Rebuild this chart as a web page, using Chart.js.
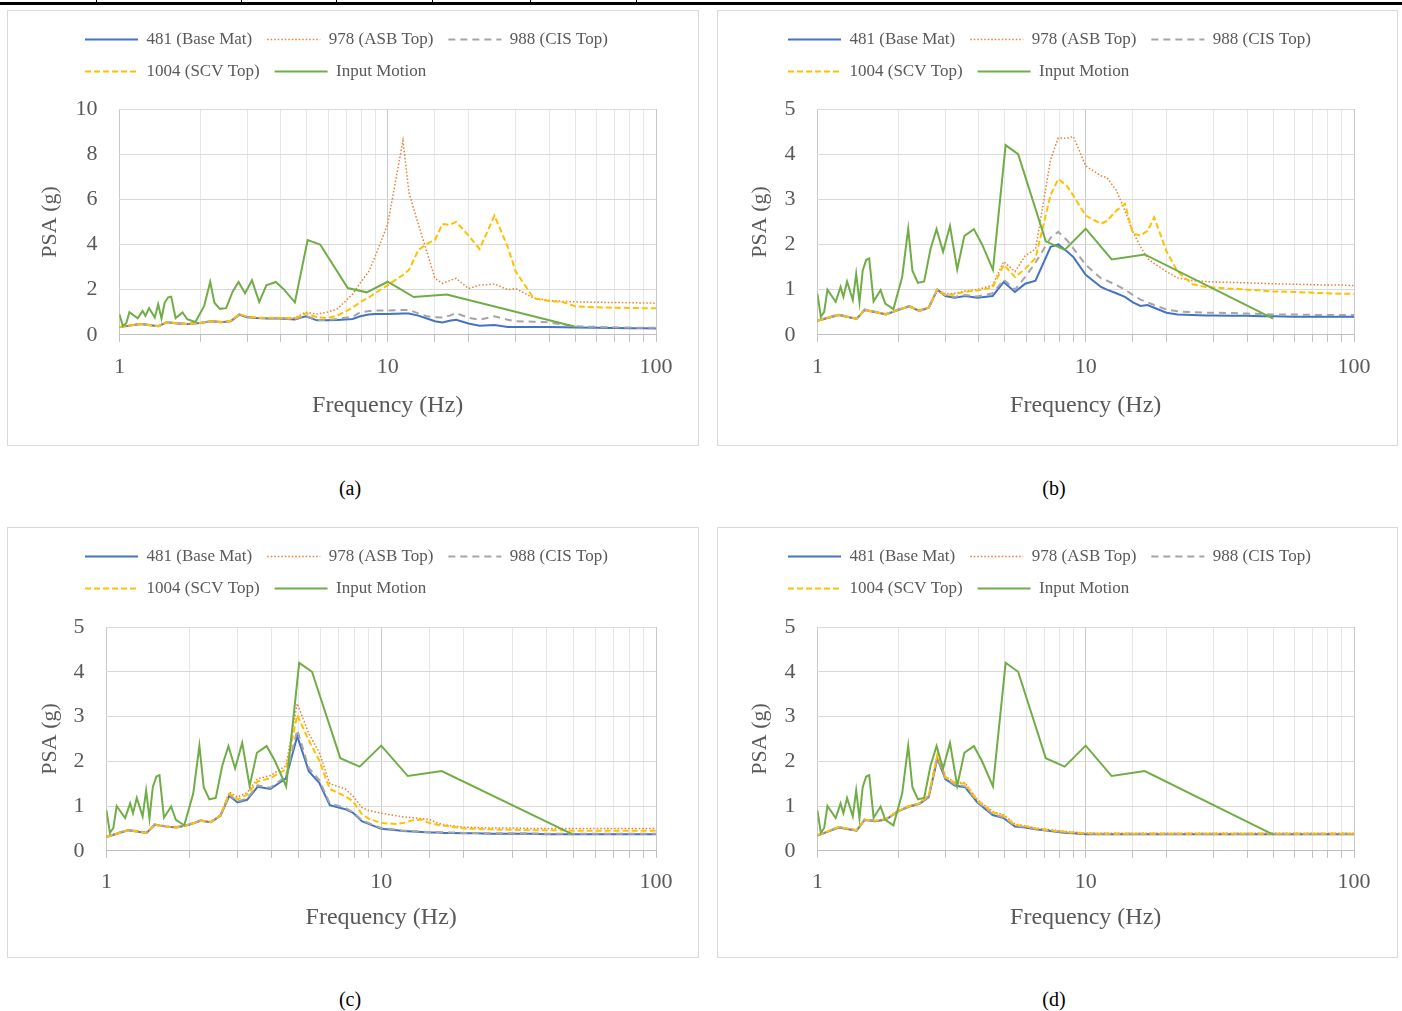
<!DOCTYPE html>
<html><head><meta charset="utf-8">
<script src="https://cdn.jsdelivr.net/npm/chart.js@4.4.1/dist/chart.umd.min.js"></script>
<style>
html,body{margin:0;padding:0;background:#fff;}
body{width:1402px;height:1011px;position:relative;overflow:hidden;font-family:"Liberation Serif",serif;}
.panel{position:absolute;border:1px solid #d9d9d9;background:#fff;}
.panel canvas{position:absolute;left:0;top:0;}
.cap{position:absolute;font-size:20px;color:#000;transform:translateX(-50%);line-height:20px;}
#topline{position:absolute;left:0;top:2px;width:1402px;height:3px;background:#000;}
.tk{position:absolute;top:0;width:1px;height:3px;background:#000;}
</style></head><body>
<div id="topline"></div>
<div class="tk" style="left:96px"></div><div class="tk" style="left:241px"></div><div class="tk" style="left:336px"></div><div class="tk" style="left:432px"></div><div class="tk" style="left:530px"></div><div class="tk" style="left:636px"></div>
<div class="panel" style="left:7px;top:10px;width:690px;height:434px"><canvas id="ca" width="690" height="434"></canvas></div>
<div class="panel" style="left:717px;top:10px;width:679px;height:434px"><canvas id="cb" width="679" height="434"></canvas></div>
<div class="panel" style="left:7px;top:527px;width:690px;height:429px"><canvas id="cc" width="690" height="429"></canvas></div>
<div class="panel" style="left:717px;top:527px;width:679px;height:429px"><canvas id="cd" width="679" height="429"></canvas></div>
<div class="cap" style="left:350px;top:478px">(a)</div>
<div class="cap" style="left:1054px;top:478px">(b)</div>
<div class="cap" style="left:350px;top:989px">(c)</div>
<div class="cap" style="left:1054px;top:989px">(d)</div>
<script>
// ---------- data ----------
const SERIES_NAMES = ['481 (Base Mat)', '978 (ASB Top)', '988 (CIS Top)', '1004 (SCV Top)', 'Input Motion'];
const X_LABELS = [1, 10, 100];

// input motion (same in all panels)
const IN_FREQ = [1.0, 1.03, 1.06, 1.09, 1.17, 1.22, 1.25, 1.29, 1.355, 1.395, 1.435, 1.475, 1.52, 1.56, 1.62, 1.72, 1.79, 1.92, 2.07, 2.18, 2.26, 2.37, 2.5, 2.64, 2.78, 2.94, 3.12, 3.32, 3.53, 3.83, 4.11, 4.51, 5.03, 5.6, 7.1, 8.35, 10, 12.5, 16.6, 50];
const IN_PSA = [0.91, 0.40, 0.51, 1.0, 0.73, 1.06, 0.84, 1.18, 0.77, 1.35, 0.72, 1.42, 1.66, 1.69, 0.74, 0.99, 0.69, 0.57, 1.28, 2.35, 1.42, 1.15, 1.18, 1.90, 2.34, 1.84, 2.41, 1.45, 2.19, 2.34, 2.0, 1.44, 4.2, 4.0, 2.07, 1.88, 2.35, 1.67, 1.78, 0.36];

// structure response frequencies
const FREQ = [1.0, 1.2, 1.4, 1.5, 1.65, 1.8, 2.0, 2.2, 2.4, 2.6, 2.8, 3.0, 3.25, 3.55, 3.95, 4.5, 4.95, 5.45, 5.95, 6.5, 7.4, 7.9, 8.5, 9.0, 10, 11.4, 12, 13, 14, 15, 16, 17, 18, 20, 22, 25, 28, 30, 35, 40, 45, 50, 60, 70, 80, 90, 100];

// panel (a)
const A_481 = [0.34,0.48,0.38,0.56,0.50,0.48,0.52,0.60,0.56,0.60, 0.89,0.78,0.74,0.72,0.72,0.68,0.82,0.64,0.64,0.66, 0.70,0.82,0.90,0.92,0.92,0.94,0.94,0.85,0.72,0.60, 0.55,0.62,0.67,0.50,0.40,0.43,0.35,0.35,0.34,0.34, 0.33,0.32,0.31,0.30,0.29,0.29,0.28];
const A_978 = [0.34,0.48,0.38,0.56,0.50,0.48,0.52,0.60,0.56,0.62, 0.92,0.80,0.76,0.76,0.76,0.75,1.00,0.92,1.00,1.15, 1.80,2.30,2.80,3.50,4.90,8.60,6.30,4.90,3.67,2.50, 2.28,2.40,2.50,2.05,2.20,2.25,2.00,2.05,1.62,1.52, 1.48,1.46,1.44,1.43,1.42,1.41,1.40];
const A_988 = [0.35,0.49,0.39,0.57,0.51,0.49,0.53,0.61,0.57,0.62, 0.90,0.79,0.75,0.74,0.74,0.70,0.84,0.66,0.66,0.70, 0.80,1.00,1.05,1.07,1.08,1.10,1.10,0.95,0.82,0.78, 0.77,0.85,0.96,0.75,0.67,0.82,0.67,0.60,0.58,0.55, 0.45,0.38,0.35,0.33,0.32,0.31,0.31];
const A_1004 = [0.34,0.48,0.38,0.56,0.50,0.48,0.52,0.60,0.56,0.62, 0.92,0.80,0.76,0.76,0.75,0.72,0.95,0.78,0.75,0.85, 1.20,1.45,1.65,1.85,2.20,2.65,2.87,3.75,4.03,4.20, 4.91,4.87,5.00,4.40,3.80,5.28,3.90,2.80,1.62,1.50, 1.45,1.26,1.22,1.20,1.19,1.18,1.18];

// panel (b)
const B_481 = [0.31,0.44,0.35,0.55,0.50,0.45,0.55,0.63,0.53,0.60, 1.00,0.86,0.82,0.86,0.82,0.86,1.17,0.95,1.13,1.20, 1.95,2.00,1.85,1.72,1.33,1.06,1.00,0.92,0.84,0.72, 0.64,0.66,0.60,0.49,0.45,0.44,0.43,0.43,0.42,0.42, 0.41,0.41,0.40,0.40,0.40,0.40,0.40];
const B_978 = [0.32,0.45,0.36,0.56,0.51,0.46,0.56,0.64,0.54,0.61, 1.00,0.90,0.92,0.97,1.00,1.10,1.62,1.40,1.75,1.90, 3.88,4.36,4.35,4.39,3.74,3.52,3.48,3.20,2.75,2.28, 1.95,1.69,1.58,1.40,1.26,1.20,1.18,1.17,1.16,1.15, 1.14,1.13,1.12,1.11,1.10,1.10,1.09];
const B_988 = [0.32,0.45,0.36,0.56,0.51,0.46,0.56,0.64,0.54,0.61, 1.01,0.88,0.84,0.88,0.85,0.92,1.22,1.00,1.28,1.60, 2.15,2.28,2.10,1.91,1.55,1.25,1.20,1.10,1.00,0.88, 0.78,0.72,0.66,0.56,0.52,0.50,0.49,0.49,0.48,0.47, 0.46,0.45,0.45,0.44,0.44,0.44,0.44];
const B_1004 = [0.31,0.44,0.35,0.55,0.50,0.45,0.55,0.63,0.53,0.60, 1.00,0.88,0.90,0.95,0.98,1.05,1.55,1.28,1.46,1.70, 3.10,3.45,3.30,3.08,2.64,2.46,2.52,2.75,2.90,2.24, 2.20,2.30,2.60,1.85,1.40,1.12,1.06,1.05,1.02,1.00, 0.98,0.96,0.95,0.93,0.92,0.91,0.91];

// panel (c)
const C_481 = [0.31,0.46,0.40,0.58,0.54,0.52,0.58,0.67,0.64,0.78, 1.23,1.08,1.14,1.43,1.38,1.62,2.56,1.78,1.52,1.02, 0.93,0.85,0.66,0.60,0.49,0.46,0.44,0.43,0.42,0.41, 0.41,0.40,0.40,0.39,0.39,0.38,0.38,0.38,0.38,0.37, 0.37,0.37,0.37,0.37,0.37,0.37,0.37];
const C_978 = [0.32,0.47,0.41,0.59,0.55,0.53,0.59,0.68,0.65,0.80, 1.31,1.20,1.30,1.61,1.68,1.90,3.29,2.62,2.20,1.50, 1.38,1.22,0.97,0.90,0.84,0.78,0.76,0.74,0.72,0.70, 0.62,0.58,0.56,0.53,0.52,0.51,0.51,0.51,0.50,0.50, 0.50,0.50,0.50,0.50,0.50,0.50,0.50];
const C_988 = [0.32,0.47,0.41,0.59,0.55,0.53,0.59,0.68,0.65,0.80, 1.26,1.10,1.17,1.46,1.41,1.66,2.70,1.85,1.58,1.06, 0.96,0.86,0.69,0.62,0.51,0.47,0.45,0.44,0.43,0.42, 0.42,0.41,0.41,0.40,0.40,0.39,0.39,0.39,0.39,0.38, 0.38,0.38,0.38,0.38,0.38,0.38,0.38];
const C_1004 = [0.31,0.46,0.40,0.58,0.54,0.52,0.58,0.67,0.64,0.79, 1.28,1.15,1.25,1.55,1.62,1.82,3.03,2.47,2.02,1.38, 1.22,1.10,0.82,0.72,0.62,0.60,0.62,0.68,0.70,0.62, 0.58,0.56,0.54,0.50,0.49,0.48,0.47,0.47,0.46,0.46, 0.46,0.45,0.45,0.45,0.45,0.45,0.45];

// panel (d)
const D_481 = [0.34,0.52,0.45,0.69,0.66,0.70,0.88,0.99,1.05,1.20, 2.06,1.60,1.46,1.42,1.08,0.80,0.73,0.54,0.52,0.48, 0.44,0.42,0.40,0.39,0.37,0.37,0.37,0.37,0.37,0.37, 0.37,0.37,0.37,0.37,0.37,0.37,0.37,0.37,0.37,0.37, 0.37,0.37,0.37,0.37,0.37,0.37,0.37];
const D_978 = [0.35,0.53,0.46,0.70,0.67,0.71,0.89,1.00,1.06,1.24, 2.15,1.66,1.53,1.52,1.14,0.88,0.80,0.60,0.56,0.51, 0.47,0.45,0.43,0.42,0.40,0.39,0.39,0.39,0.39,0.39, 0.39,0.39,0.39,0.39,0.39,0.39,0.39,0.39,0.39,0.39, 0.39,0.39,0.39,0.39,0.39,0.39,0.39];
const D_988 = [0.35,0.53,0.46,0.70,0.67,0.71,0.89,1.00,1.06,1.22, 2.08,1.62,1.48,1.44,1.10,0.82,0.75,0.56,0.53,0.49, 0.45,0.43,0.41,0.40,0.38,0.38,0.38,0.38,0.38,0.38, 0.38,0.38,0.38,0.38,0.38,0.38,0.38,0.38,0.38,0.38, 0.38,0.38,0.38,0.38,0.38,0.38,0.38];
const D_1004 = [0.35,0.53,0.46,0.70,0.67,0.71,0.89,1.00,1.06,1.23, 2.15,1.65,1.52,1.50,1.12,0.86,0.78,0.58,0.55,0.50, 0.46,0.44,0.42,0.41,0.39,0.38,0.38,0.38,0.38,0.38, 0.38,0.38,0.38,0.38,0.38,0.38,0.38,0.38,0.38,0.38, 0.38,0.38,0.38,0.38,0.38,0.38,0.38];

// ---------- styles ----------
const STYLES = [
  {borderColor:'#4472C4', borderWidth:2, borderDash:[]},
  {borderColor:'#ED7D31', borderWidth:1.5, borderDash:[1.5,2]},
  {borderColor:'#A5A5A5', borderWidth:2, borderDash:[7,5]},
  {borderColor:'#FFC000', borderWidth:2, borderDash:[6,3]},
  {borderColor:'#70AD47', borderWidth:2, borderDash:[]}
];
const DRAW_ORDER = [4,3,2,1,0]; // input motion on top

Chart.defaults.font.family = '"Liberation Serif", "Times New Roman", serif';
Chart.defaults.color = '#595959';

const isMajor = v => Math.abs(Math.log10(v) - Math.round(Math.log10(v))) < 1e-9;

function pts(xs, ys){ return xs.map((x,i)=>({x:x, y:ys[i]})); }

function makeChart(id, series, yMax, yStep, opt){
  const ds = series.map((ys, k) => Object.assign({
    label: SERIES_NAMES[k],
    data: k === 4 ? pts(IN_FREQ, IN_PSA) : pts(FREQ, ys),
    showLine: true, pointRadius: 0, pointHoverRadius: 0, tension: 0, fill: false,
    order: DRAW_ORDER[k]
  }, STYLES[k]));
  const legendFix = {
    id: 'legendFix',
    beforeInit(chart){
      const lg = chart.legend; const orig = lg.fit;
      lg.fit = function(){ orig.call(this); this.height += opt.legendGap; };
    },
    afterLayout(chart){
      const lg = chart.legend; lg.left = opt.legendLeft; lg.right = chart.width;
    }
  };
  return new Chart(document.getElementById(id), {
    type: 'scatter',
    data: { datasets: ds },
    plugins: [legendFix],
    options: {
      responsive: false, animation: false, events: [],
      layout: { padding: { left: opt.padL, right: opt.padR, top: opt.padT, bottom: opt.padB } },
      plugins: {
        tooltip: { enabled: false },
        legend: {
          display: true, position: 'top', align: 'start',
          labels: {
            usePointStyle: true, pointStyle: 'line', pointStyleWidth: 53,
            padding: 15, color: '#595959',
            font: { size: 17 },
            sort: (a, b) => a.datasetIndex - b.datasetIndex,
            generateLabels(chart){
              const items = Chart.defaults.plugins.legend.labels.generateLabels(chart);
              items.forEach(it => {
                const d = chart.data.datasets[it.datasetIndex];
                it.lineDash = d.borderDash; it.lineWidth = d.borderWidth;
                it.strokeStyle = d.borderColor; it.fillStyle = d.borderColor;
                it.lineCap = 'butt'; it.pointStyle = 'line';
              });
              return items;
            }
          }
        }
      },
      scales: {
        x: {
          type: 'logarithmic', min: 1, max: 100,
          ticks: {
            autoSkip: false, maxRotation: 0, minRotation: 0, padding: opt.tickPad,
            font: { size: 22 }, color: '#595959',
            callback: (v) => X_LABELS.includes(Math.round(v)) && isMajor(v) ? String(Math.round(v)) : ''
          },
          grid: {
            color: (c) => (c.tick && isMajor(c.tick.value)) ? '#c9c9c9' : '#e6e6e6',
            lineWidth: 1, drawTicks: true, tickLength: 7, tickColor: '#bfbfbf'
          },
          border: { display: true, color: '#bfbfbf', width: 1 },
          title: { display: true, text: 'Frequency (Hz)', font: { size: 24 }, color: '#595959', padding: { top: opt.titleTop, bottom: 4 } }
        },
        y: {
          min: 0, max: yMax,
          ticks: { stepSize: yStep, font: { size: 22 }, color: '#595959', padding: 22 },
          grid: { color: '#d9d9d9', lineWidth: 1, drawTicks: false },
          border: { display: false },
          title: { display: true, text: 'PSA (g)', font: { size: 22 }, color: '#595959', padding: { top: 4, bottom: opt.titleB } }
        }
      }
    }
  });
}

makeChart('ca', [A_481, A_978, A_988, A_1004, IN_PSA], 10, 2, {padL:25, padR:42, padT:5, padB:21, legendGap:19, legendLeft:62, titleB:-10, tickPad:12, titleTop:-1});
makeChart('cb', [B_481, B_978, B_988, B_1004, IN_PSA], 5, 1, {padL:25, padR:43, padT:5, padB:21, legendGap:19, legendLeft:55, titleB:-11, tickPad:12, titleTop:-1});
makeChart('cc', [C_481, C_978, C_988, C_1004, IN_PSA], 5, 1, {padL:25, padR:42, padT:5, padB:21, legendGap:20, legendLeft:62, titleB:-12, tickPad:11, titleTop:-3});
makeChart('cd', [D_481, D_978, D_988, D_1004, IN_PSA], 5, 1, {padL:25, padR:43, padT:5, padB:21, legendGap:20, legendLeft:55, titleB:-11, tickPad:11, titleTop:-3});
</script>
</body></html>
